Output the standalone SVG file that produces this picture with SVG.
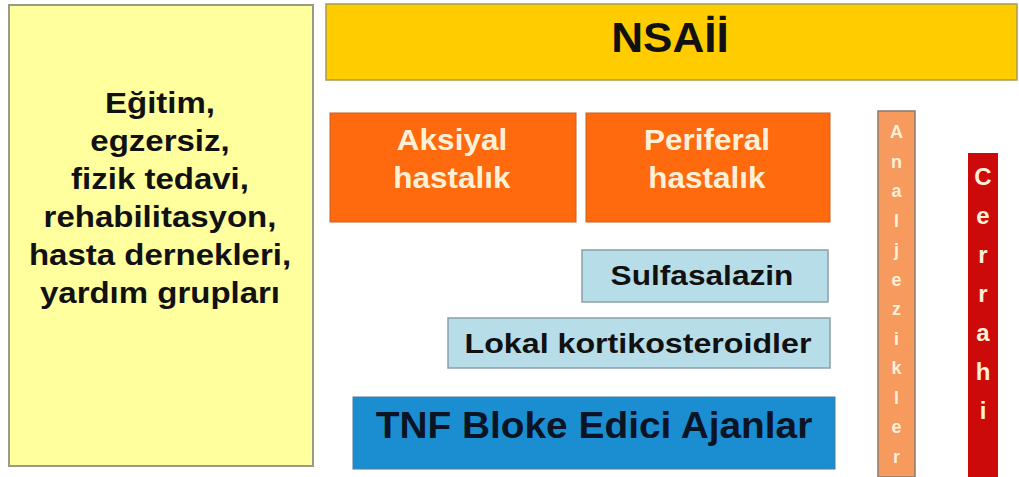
<svg xmlns="http://www.w3.org/2000/svg" width="1019" height="477" viewBox="0 0 1019 477">
<style>
text{font-family:"Liberation Sans",Arial,sans-serif;font-weight:bold;text-anchor:middle}
.dark{fill:#111}
.light{fill:#FFF0D8}
.blue{fill:#B7DDE8;stroke:#8aa0a8;stroke-width:1.5}
.orange{fill:#FF6A0E;stroke:#c86028;stroke-width:1}
</style>
<rect width="1019" height="477" fill="#ffffff"/>
<g id="egitim">
<rect x="9" y="5" width="304" height="461" fill="#FFFF9E" stroke="#9a9a88" stroke-width="2"/>
<g class="dark" font-size="30">
<text transform="matrix(1.1 0 0 1 160 113)">Eğitim,</text>
<text transform="matrix(1.1 0 0 1 160 151)">egzersiz,</text>
<text transform="matrix(1.1 0 0 1 160 189)">fizik tedavi,</text>
<text transform="matrix(1.1 0 0 1 160 227)">rehabilitasyon,</text>
<text transform="matrix(1.1 0 0 1 160 265)">hasta dernekleri,</text>
<text transform="matrix(1.1 0 0 1 160 303)">yardım grupları</text>
</g>
</g>
<g id="nsaii">
<rect x="326" y="4" width="691" height="76" fill="#FFCC00" stroke="#a89a50" stroke-width="1.5"/>
<text class="dark" font-size="42" transform="matrix(1.05 0 0 1 670 52)">NSAİİ</text>
</g>
<g id="aksiyal">
<rect class="orange" x="330" y="113" width="246" height="109"/>
<text class="light" font-size="30" transform="matrix(1.05 0 0 1 452 150)">Aksiyal</text>
<text class="light" font-size="30" transform="matrix(1.05 0 0 1 452 188)">hastalık</text>
</g>
<g id="periferal">
<rect class="orange" x="586" y="113" width="244" height="109"/>
<text class="light" font-size="30" transform="matrix(1.05 0 0 1 707 150)">Periferal</text>
<text class="light" font-size="30" transform="matrix(1.05 0 0 1 707 188)">hastalık</text>
</g>
<g id="sulfasalazin">
<rect class="blue" x="582" y="250" width="246" height="52"/>
<text class="dark" font-size="28" transform="matrix(1.13 0 0 1 702 285)">Sulfasalazin</text>
</g>
<g id="lokal">
<rect class="blue" x="448" y="318" width="382" height="50"/>
<text class="dark" font-size="28" transform="matrix(1.15 0 0 1 638 353)">Lokal kortikosteroidler</text>
</g>
<g id="tnf">
<rect x="353" y="397" width="482" height="72" fill="#1B8ED2" stroke="#4a7a9a" stroke-width="1"/>
<text font-size="37" fill="#0a1424" transform="matrix(1.05 0 0 1 594 438)">TNF Bloke Edici Ajanlar</text>
</g>
<g id="analjezikler">
<rect x="878" y="111" width="37" height="366" fill="#F79A5E" stroke="#8a7a70" stroke-width="1.5"/>
<g class="light" font-size="18">
<text x="896.5" y="138">A</text>
<text x="896.5" y="167.5">n</text>
<text x="896.5" y="197">a</text>
<text x="896.5" y="226.5">l</text>
<text x="896.5" y="256">j</text>
<text x="896.5" y="285.5">e</text>
<text x="896.5" y="315">z</text>
<text x="896.5" y="344.5">i</text>
<text x="896.5" y="374">k</text>
<text x="896.5" y="403.5">l</text>
<text x="896.5" y="433">e</text>
<text x="896.5" y="462.5">r</text>
</g>
</g>
<g id="cerrahi">
<rect x="968" y="153" width="30" height="324" fill="#CC0A0A"/>
<g class="light" font-size="24">
<text x="983" y="185">C</text>
<text x="983" y="224">e</text>
<text x="983" y="263">r</text>
<text x="983" y="302">r</text>
<text x="983" y="341">a</text>
<text x="983" y="380">h</text>
<text x="983" y="419">i</text>
</g>
</g>
<g id="connectors"></g>
</svg>
